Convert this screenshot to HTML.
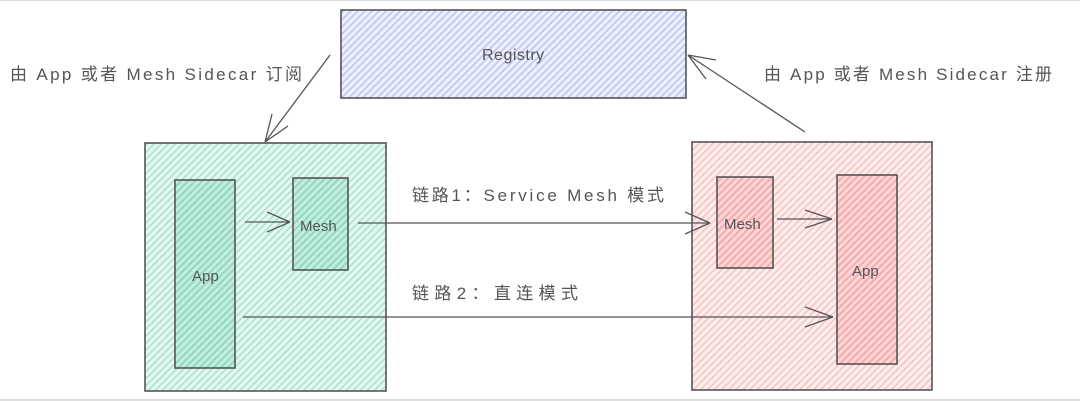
<!DOCTYPE html>
<html><head><meta charset="utf-8"><style>
html,body{margin:0;padding:0;background:#fff;}
svg{display:block}
text{font-family:"Liberation Sans","Noto Sans CJK SC",sans-serif;fill:#555;}
</style></head><body>
<svg width="1080" height="401" xmlns="http://www.w3.org/2000/svg">
<defs>
<pattern id="hb" width="5" height="5" patternUnits="userSpaceOnUse" patternTransform="rotate(45)">
<rect width="5" height="5" fill="#eef0fc"/><rect width="1.6" height="5" fill="#bcc6f3"/></pattern>
<pattern id="hg" width="5" height="5" patternUnits="userSpaceOnUse" patternTransform="rotate(45)">
<rect width="5" height="5" fill="#e6f7f1"/><rect width="1.6" height="5" fill="#a8e3cd"/></pattern>
<pattern id="hg2" width="5" height="5" patternUnits="userSpaceOnUse" patternTransform="rotate(45)">
<rect width="5" height="5" fill="#c4ede0"/><rect width="2" height="5" fill="#90d9bf"/></pattern>
<pattern id="hr" width="5" height="5" patternUnits="userSpaceOnUse" patternTransform="rotate(45)">
<rect width="5" height="5" fill="#fdeeee"/><rect width="1.6" height="5" fill="#f8c2c2"/></pattern>
<pattern id="hr2" width="5" height="5" patternUnits="userSpaceOnUse" patternTransform="rotate(45)">
<rect width="5" height="5" fill="#fdd6d6"/><rect width="2" height="5" fill="#f5abab"/></pattern>
</defs>
<rect x="0" y="0" width="1080" height="1" fill="#ddd"/>
<rect x="0" y="399" width="1080" height="2" fill="#ddd"/>
<g stroke="#555" stroke-width="1.6">
<rect x="341" y="10" width="345" height="88" fill="url(#hb)"/>
<rect x="145" y="143" width="241" height="248" fill="url(#hg)"/>
<rect x="175" y="180" width="60" height="188" fill="url(#hg2)"/>
<rect x="293" y="178" width="55" height="92" fill="url(#hg2)"/>
<rect x="692" y="142" width="240" height="248" fill="url(#hr)"/>
<rect x="717" y="177" width="56" height="91" fill="url(#hr2)"/>
<rect x="837" y="175" width="60" height="189" fill="url(#hr2)"/>
</g>
<g stroke="#555" stroke-width="1.3" fill="none">
<path d="M330 55 L265 142 M272 114 L265 142 M288 126 L265 142"/>
<path d="M805 132 L688 55 M716 60 L688 55 M706 79 L688 55"/>
<path d="M245 222 L290 222 M267 212 L290 222 M267 232 L290 222"/>
<path d="M358 223 L710 223 M685 212 L710 223 M685 234 L710 223"/>
<path d="M777 219 L832 219 M805 210 L832 219 M805 228 L832 219"/>
<path d="M243 317 L833 317 M805 307 L833 317 M805 327 L833 317"/>
</g>
<text x="482" y="60" font-size="16" letter-spacing="0.5">Registry</text>
<text x="10" y="80" font-size="17" textLength="292" lengthAdjust="spacing">由 App 或者 Mesh Sidecar 订阅</text>
<text x="764" y="80" font-size="17" textLength="288" lengthAdjust="spacing">由 App 或者 Mesh Sidecar 注册</text>
<text x="412" y="201" font-size="17" textLength="252" lengthAdjust="spacing">链路1：Service Mesh 模式</text>
<text x="412" y="299" font-size="17" textLength="166" lengthAdjust="spacing">链路2：直连模式</text>
<text x="192" y="281" font-size="15">App</text>
<text x="300" y="231" font-size="15">Mesh</text>
<text x="724" y="229" font-size="15">Mesh</text>
<text x="852" y="276" font-size="15">App</text>
</svg>
</body></html>
